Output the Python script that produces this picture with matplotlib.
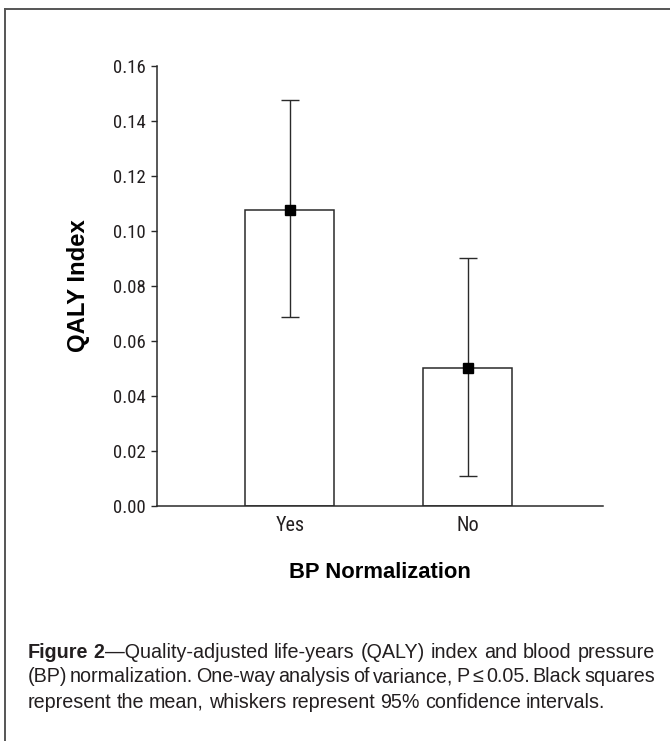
import matplotlib
matplotlib.use("Agg")
import matplotlib.pyplot as plt
from matplotlib.lines import Line2D

# data
categories = ["Yes", "No"]
means = [0.1077, 0.0503]
ci_low = [0.0685, 0.0110]
ci_high = [0.1476, 0.0902]
y_ticks = [0.00, 0.02, 0.04, 0.06, 0.08, 0.10, 0.12, 0.14, 0.16]

caption_lines = [
    [[("Figure", "bold")], [("2", "bold"), ("\u2014Quality-adjusted", "normal")],
     [("life-years", "normal")], [("(QALY)", "normal")], [("index", "normal")],
     [("and", "normal")], [("blood", "normal")], [("pressure", "normal")]],
    [[(w, "normal")] for w in
     "(BP) normalization. One-way analysis of variance, P \u2264 0.05. Black squares".split(" ")],
    [[(w, "normal")] for w in
     "represent the mean, whiskers represent 95% confidence intervals.".split(" ")],
]

NARROW = ["Roboto Condensed", "Liberation Sans", "DejaVu Sans"]
REGULAR = ["Liberation Sans", "DejaVu Sans"]
INK = "#231f20"
W, H = 670, 741

plt.rcParams["font.family"] = NARROW
plt.rcParams["text.color"] = INK

fig = plt.figure(figsize=(W / 100, H / 100), dpi=100)
ax = fig.add_axes([157 / W, (H - 506) / H, 446 / W, 440.3 / H])

x = list(range(len(categories)))
ax.bar(x, means, width=0.5, color="white", edgecolor="#2a2a2a", linewidth=1.1, zorder=2)
yerr = [[m - lo for m, lo in zip(means, ci_low)], [hi - m for m, hi in zip(means, ci_high)]]
ax.errorbar(x, means, yerr=yerr, fmt="s", color="black", ms=7.2, ecolor="#2a2a2a",
            elinewidth=1.0, capsize=6.8, capthick=1.0, zorder=3)

ax.set_xlim(-0.746, 1.76)
ax.set_ylim(0, 0.16)
ax.set_yticks(y_ticks)
ax.set_yticklabels([f"{v:.2f}" for v in y_ticks])
ax.set_xticks(x)
ax.set_xticklabels(categories)

for side in ["top", "right"]:
    ax.spines[side].set_visible(False)
for side in ["left", "bottom"]:
    ax.spines[side].set_color("#2a2a2a")
    ax.spines[side].set_linewidth(1.1)

ax.tick_params(axis="y", length=4.3, width=1.0, pad=3.6, labelsize=13.5, colors="#2a2a2a",
               labelcolor=INK)
ax.tick_params(axis="x", length=0, pad=7, labelsize=14.5, labelcolor=INK)

ax.set_xlabel("BP Normalization", fontsize=15.8, fontweight="bold", va="center",
              family=REGULAR)
ax.xaxis.set_label_coords(0.5, -(572 - 506) / 440.3)
ax.set_ylabel("QALY Index", fontsize=17.2, fontweight="bold", va="center", family=REGULAR)
ax.yaxis.set_label_coords(-(157 - 78) / 446, 0.5)

# frame around the figure
fig.add_artist(Line2D([5 / W, 5 / W], [0, (H - 9) / H], color="#555555", lw=1.4,
                      transform=fig.transFigure))
fig.add_artist(Line2D([5 / W, 1], [(H - 9) / H, (H - 9) / H], color="#555555", lw=1.4,
                      transform=fig.transFigure))

# justified caption
cap_size = 14.2
fig.canvas.draw()
renderer = fig.canvas.get_renderer()
left_px, right_px = 27.5, 655
baselines = [657.5, 682.5, 708]
for i, (words, base) in enumerate(zip(caption_lines, baselines)):
    placed = []
    for word in words:
        runs = []
        wsum = 0
        for txt, weight in word:
            t = fig.text(0, (H - base) / H, txt, fontsize=cap_size, fontweight=weight,
                         va="baseline", ha="left", color=INK, family=REGULAR)
            w = t.get_window_extent(renderer).width
            runs.append((t, w))
            wsum += w
        placed.append((runs, wsum))
    total = sum(p[1] for p in placed)
    if i < len(caption_lines) - 1:
        gap = max((right_px - left_px - total) / (len(placed) - 1), 1.5)
    else:
        gap = 0.26 * cap_size * 100 / 72
    cur = left_px
    for runs, wsum in placed:
        for t, w in runs:
            t.set_x(cur / W)
            cur += w
        cur += gap

fig.savefig("out.png", dpi=100)
